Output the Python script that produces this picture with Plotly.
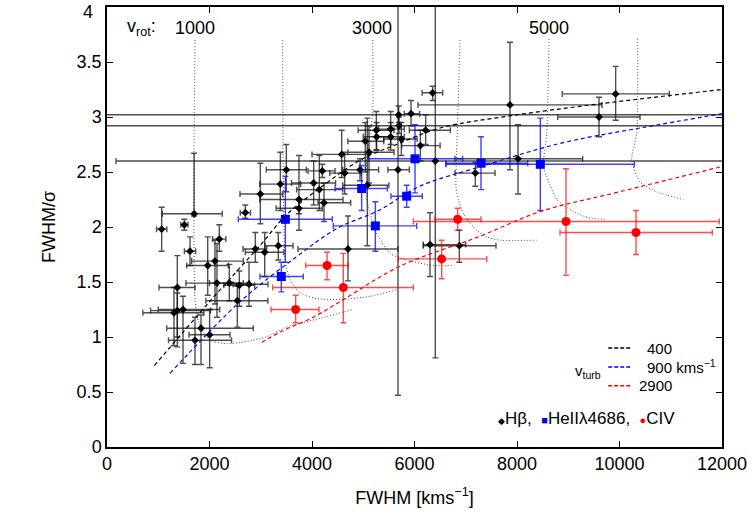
import plotly.graph_objects as go

# ---------------- data ----------------
# H-beta: x, y, x-lower, x-upper, y-lower, y-upper
hb_x  = [1067,1509,1700,1620,2192,1965,2107,2146,1372,2387,2582,2771,2543,1307,1372,1483,1834,1717,2003,
         2894,3077,3343,2992,2699,3499,3382,3746,3746,4033,4143,4234,4201,4637,4579,5040,5112,5079,4702,
         5255,5261,5535,5535,5743,5691,5697,5678,5932,6218,6115,6406,6354,7863,8020,7187,6302,6875,9925,9600,4937]
hb_y  = [1.98,2.02,2.12,1.78,1.89,1.65,1.69,1.49,1.45,1.49,1.47,1.48,1.33,1.22,1.24,1.25,1.08,0.97,1.02,
         1.80,1.77,1.83,2.30,2.13,2.52,2.39,2.25,2.17,2.40,2.34,2.22,2.51,2.49,2.66,2.78,2.68,2.38,1.80,
         2.88,2.82,2.89,2.82,2.80,3.02,2.92,2.52,3.03,2.88,2.74,2.60,3.22,3.11,2.62,2.49,1.84,1.83,3.21,3.00,2.52]
hb_xlo = [967,1440,1080,1510,2060,1555,1652,1540,1015,2000,2280,2460,1930,700,850,1000,1165,1200,1600,
          2655,2700,3083,2595,2600,3108,2980,2980,3300,3600,3700,4117,3922,4345,4000,4700,4700,4600,3727,
          4900,5000,5300,5250,5400,-500,-500,5480,5800,5900,5750,175,6150,6068,6790,6790,6172,6172,8884,8794,4600]
hb_xhi = [1167,1580,2250,1730,2320,2368,2660,2660,1717,2780,2880,3140,3140,1890,2020,2200,2855,2430,2400,
          3116,3450,3629,3428,2800,3889,3780,4605,4200,4460,4600,4755,4449,4962,5100,5400,5600,5500,5678,
          5600,5550,5800,5800,6050,13000,13000,5900,6100,6700,6500,13000,6550,9659,9282,7571,7000,7590,10972,10400,5300]
hb_ylo = [1.78,1.97,2.10,1.65,1.78,1.38,1.30,1.18,0.91,1.33,1.28,1.28,1.09,0.92,1.00,0.76,0.75,0.75,0.72,
          1.68,1.55,1.70,2.03,2.08,2.32,2.15,2.12,1.97,2.20,2.15,2.05,2.45,2.30,2.45,2.50,2.40,1.83,1.51,
          2.70,2.70,2.75,2.70,2.65,2.95,2.85,0.47,2.92,2.75,2.60,0.81,3.15,2.52,2.30,2.37,1.55,1.68,2.97,2.82,2.42]
hb_yhi = [2.18,2.07,2.67,1.91,2.02,1.91,1.88,1.85,1.74,1.66,1.60,1.68,1.46,1.45,1.40,1.37,1.20,1.18,1.25,
          1.95,1.95,1.95,2.58,2.20,2.75,2.68,2.65,2.25,2.60,2.65,2.40,2.57,2.68,2.88,2.95,2.92,2.99,2.10,
          3.05,2.95,3.05,2.95,2.95,3.10,3.00,4.30,3.15,3.02,2.88,4.30,3.28,3.68,2.93,2.59,2.13,1.97,3.46,3.18,2.62]

# HeII 4686
he_x   = [3480,3401,5236,4969,5847,6010,7298,8455]
he_y   = [2.07,1.55,2.01,2.35,2.28,2.62,2.58,2.57]
he_xlo = [2562,2985,4416,4449,5541,5099,6615,6615]
he_xhi = [4396,3830,6043,5469,6152,6940,8209,10289]
he_ylo = [1.68,1.41,1.78,2.15,2.18,2.31,2.34,2.15]
he_yhi = [2.46,1.68,2.23,2.56,2.38,2.93,2.82,2.99]

# CIV
c4_x   = [4293,4611,3681,6842,8956,10322,6530]
c4_y   = [1.65,1.45,1.25,2.07,2.05,1.95,1.71]
c4_xlo = [3877,3233,3200,6400,5977,8839,5684]
c4_xhi = [4709,5977,4137,7298,11948,11811,7409]
c4_ylo = [1.52,1.13,1.13,1.97,1.56,1.75,1.53]
c4_yhi = [1.77,1.76,1.38,2.17,2.53,2.15,1.88]

# model curves (v_turb)
vt400_x  = [923,2000,3000,3500,4200,4950,5650,6500,7860,9620,12000]
vt400_y  = [0.74,1.32,1.84,2.11,2.37,2.61,2.75,2.90,3.01,3.12,3.25]
vt900_x  = [1229,2595,3700,4500,5300,6100,7300,8840,10400,12000]
vt900_y  = [0.67,1.32,1.73,1.99,2.15,2.37,2.55,2.76,2.90,3.03]
vt2900_x = [3018,3400,4026,4611,5700,7300,8450,10000,12000]
vt2900_y = [0.95,1.05,1.18,1.34,1.64,1.92,2.14,2.32,2.55]

# v_rot curves (dotted)
vr1000_x = [1717,1698,1698,1717,1776,1912,2074,2336,2595,2849,3102,3506,4156,4806]
vr1000_y = [3.70,2.70,1.79,1.34,1.15,1.02,0.96,0.94,0.95,0.97,1.00,1.09,1.17,1.25]
vr2000_x = [3428,3434,3454,3473,3571,3766,4078,4546,5132,5659]
vr2000_y = [3.70,2.70,1.97,1.70,1.52,1.40,1.35,1.34,1.37,1.43]
vr3000_x = [5184,5184,5132,5067,5073,5171,5262,5522,5847,6361,6751]
vr3000_y = [3.70,3.04,2.85,2.61,2.25,2.06,1.94,1.76,1.70,1.65,1.65]
vr4000_x = [6888,6855,6823,6810,6855,6952,7214,7409,7668,8384]
vr4000_y = [3.70,3.15,2.70,2.36,2.25,2.12,1.97,1.91,1.88,1.88]
vr5000_x = [8624,8580,8513,8580,8775,9099,9424,9750]
vr5000_y = [3.71,2.85,2.55,2.46,2.25,2.14,2.08,2.07]
vr6000_x = [10355,10335,10238,10400,10726,11245]
vr6000_y = [3.71,2.85,2.61,2.41,2.32,2.25]

vrot_labels = ["1000", "3000", "5000"]
vrot_label_x = [1717, 5171, 8624]

y_tickvals = [0, 0.5, 1, 1.5, 2, 2.5, 3, 3.5, 4]
y_ticktext = ["0", "0.5", "1", "1.5", "2", "2.5", "3", "3.5", ""]
y_top_label = "4"

FONT = "Liberation Sans, Arial, sans-serif"

def errs(v, lo, hi):
    return [h - a for a, h in zip(v, hi)], [a - l for a, l in zip(v, lo)]

fig = go.Figure()

for xs, ys in [(vr1000_x, vr1000_y), (vr2000_x, vr2000_y), (vr3000_x, vr3000_y),
               (vr4000_x, vr4000_y), (vr5000_x, vr5000_y), (vr6000_x, vr6000_y)]:
    fig.add_trace(go.Scatter(x=xs, y=ys, mode="lines", line=dict(color="#444444", width=1, dash="1px,2px", shape="spline", smoothing=0.6),
                             hoverinfo="skip", showlegend=False))

def add_data(x, y, xlo, xhi, ylo, yhi, marker, ecol):
    xp, xm = errs(x, xlo, xhi)
    yp, ym = errs(y, ylo, yhi)
    fig.add_trace(go.Scatter(
        x=x, y=y, mode="markers", marker=marker, showlegend=False,
        error_x=dict(type="data", symmetric=False, array=xp, arrayminus=xm, color=ecol, thickness=1.4, width=3),
        error_y=dict(type="data", symmetric=False, array=yp, arrayminus=ym, color=ecol, thickness=1.4, width=3),
    ))

add_data(hb_x, hb_y, hb_xlo, hb_xhi, hb_ylo, hb_yhi, dict(symbol="diamond", size=6, color="black"), "rgba(20,20,20,0.75)")
add_data(he_x, he_y, he_xlo, he_xhi, he_ylo, he_yhi, dict(symbol="square", size=9, color="#0000ff"), "rgba(0,0,255,0.75)")
add_data(c4_x, c4_y, c4_xlo, c4_xhi, c4_ylo, c4_yhi, dict(symbol="circle", size=9, color="#ff0000"), "rgba(255,0,0,0.7)")

for xs, ys, col in [(vt400_x, vt400_y, "black"), (vt900_x, vt900_y, "#0000ff"), (vt2900_x, vt2900_y, "#ff0000")]:
    fig.add_trace(go.Scatter(x=xs, y=ys, mode="lines", line=dict(color=col, width=1.2, dash="4px,3px", shape="spline"),
                             hoverinfo="skip", showlegend=False))

axis_common = dict(showline=True, linecolor="black", linewidth=1.5, mirror="ticks", ticks="inside",
                   ticklen=6, tickwidth=1, tickcolor="black", showgrid=False, zeroline=False,
                   ticklabeloverflow="allow", automargin=False,
                   tickfont=dict(family=FONT, size=18, color="black"))
fig.update_xaxes(range=[0, 12000], dtick=2000, tick0=0, tickformat="d", **axis_common,
                 title=dict(text="FWHM [kms<sup>−1</sup>]", font=dict(family=FONT, size=18, color="black"), standoff=18))
fig.update_yaxes(range=[0, 4], tickmode="array", tickvals=y_tickvals, ticktext=y_ticktext, **axis_common,
                 title=dict(text="FWHM/σ", font=dict(family=FONT, size=18, color="black"), standoff=16))

ann = []
ann.append(dict(xref="paper", yref="y", x=-0.0195, y=4, xanchor="right", yanchor="top", yshift=7,
                text=y_top_label, showarrow=False, font=dict(family=FONT, size=18, color="black")))
ann.append(dict(xref="paper", yref="y", x=0.029, y=3.81, xanchor="left", yanchor="middle", text="v<sub>rot</sub>:", showarrow=False,
                font=dict(family=FONT, size=18, color="black")))
for t, xv in zip(vrot_labels, vrot_label_x):
    ann.append(dict(xref="x", yref="y", x=xv, y=3.81, text=t, showarrow=False, yanchor="middle",
                    font=dict(family=FONT, size=18, color="black")))

# v_turb legend
leg_rows = [(0.225, "400", "black", 0.875), (0.182, "900 kms<sup>−1</sup>", "#0000ff", 0.875), (0.139, "2900", "#ff0000", 0.862)]
shapes = []
for yy, txt, col, tx in leg_rows:
    shapes.append(dict(type="line", xref="paper", yref="paper", x0=0.815, x1=0.852, y0=yy, y1=yy,
                       line=dict(color=col, width=1.5, dash="4px,2px")))
    ann.append(dict(xref="paper", yref="paper", x=tx, y=yy, text=txt, showarrow=False, xanchor="left", yanchor="middle",
                    font=dict(family=FONT, size=15, color="black")))
ann.append(dict(xref="paper", yref="paper", x=0.806, y=0.172, text="v<sub>turb</sub>", showarrow=False, xanchor="right",
                yanchor="middle", font=dict(family=FONT, size=15, color="black")))
ann.append(dict(xref="paper", yref="paper", x=0.633, y=0.064, xanchor="left", yanchor="middle", showarrow=False,
                text="<span style='font-size:9px'>◆</span>Hβ,  <span style='color:#0000ff;font-size:11px'>■</span>HeIIλ4686,  <span style='color:#ff0000;font-size:11px'>●</span>CIV",
                font=dict(family=FONT, size=17, color="black")))

fig.update_layout(width=754, height=521, margin=dict(l=107, r=32, t=7, b=74),
                  plot_bgcolor="white", paper_bgcolor="white", annotations=ann, shapes=shapes,
                  font=dict(family=FONT))
fig.write_html("out.html")
